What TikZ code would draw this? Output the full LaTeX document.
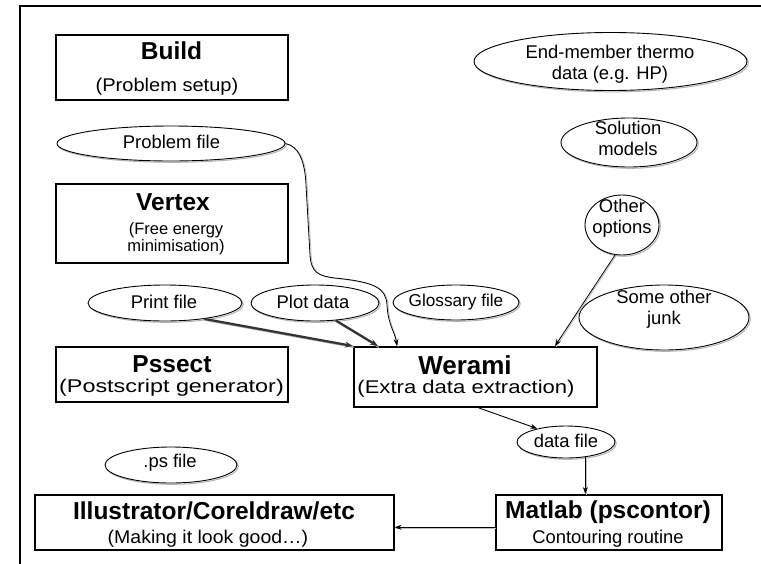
\documentclass[tikz,border=0pt]{standalone}
\usepackage{fontspec}
\setmainfont{Liberation Sans}
\usetikzlibrary{shapes.geometric,arrows.meta,calc}
\newcommand\hs[2]{\scalebox{#1}[1]{#2}}
\begin{document}
\begin{tikzpicture}[x=1pt,y=-1pt,
  box/.style={draw, line width=1.6pt, inner sep=0pt, anchor=north west},
  ell/.style={ellipse, draw, fill=white, line width=0.9pt, inner sep=0pt,
    preaction={draw=black!30, line width=1pt, transform canvas={shift={(1.3pt,-1.3pt)}}}},
  ttl/.style={inner sep=0pt, font=\fontsize{24.5}{26}\selectfont\bfseries},
  sub/.style={inner sep=0pt, font=\fontsize{18.4}{20}\selectfont},
  etx/.style={inner sep=0pt, align=center, font=\fontsize{18.4}{21}\selectfont},
  shd/.style={preaction={draw=black!25, -, line width=0.8pt, transform canvas={shift={(1.2pt,-0.6pt)}}}},
  conn/.style={-{Stealth[length=7pt,width=5pt]}, line width=0.8pt, shd},
  thk/.style={-{Stealth[length=8pt,width=6pt]}, line width=2.2pt, draw=black!80,
    preaction={draw=black!35, -, line width=1.2pt, transform canvas={shift={(0.8pt,-1.4pt)}}}}]
\useasboundingbox (0,0) rectangle (761,563);
% outer frame
\draw[line width=2.5pt] (790,6) -- (20,6) -- (20,590);
% boxes
\node[box, minimum width=232, minimum height=65] (build) at (55,34) {};
\node[ttl] at (171.5,51) {Build};
\node[sub] at (167,87) {\hs{1.09}{(Problem setup)}};
\node[box, minimum width=232, minimum height=79] (vertex) at (55,183) {};
\node[ttl] at (173,202) {Vertex};
\node[inner sep=0pt, align=center, font=\fontsize{16.5}{17}\selectfont] at (176,238.5) {(Free energy\\minimisation)};
\node[box, minimum width=232, minimum height=55] (pssect) at (55,346) {};
\node[ttl] at (172,364) {Pssect};
\node[sub] at (171.5,388) {\hs{1.27}{(Postscript generator)}};
\node[box, minimum width=243, minimum height=60] (wer) at (353,346) {};
\node[ttl, font=\fontsize{26}{28}\selectfont\bfseries] at (465,365) {Werami};
\node[sub] at (466,389) {\hs{1.2}{(Extra data extraction)}};
\node[box, minimum width=359, minimum height=55] (ill) at (34,494) {};
\node[ttl] at (214,511) {Illustrator/Coreldraw/etc};
\node[sub] at (208,539) {\hs{1.06}{(Making it look good…)}};
\node[box, minimum width=226, minimum height=55] (mat) at (495,494) {};
\node[ttl] at (608,512) {Matlab (pscontor)};
\node[sub] at (608,539) {Contouring routine};
% ellipses
\node[ell, minimum width=228, minimum height=35] (pf) at (171,143.5) {};
\node[etx] at (171.5,142) {Problem file};
\node[ell, minimum width=273, minimum height=58] (em) at (610.5,61.5) {};
\node[etx] at (610,64) {End-member thermo\\data (e.g. HP)};
\node[ell, minimum width=136, minimum height=49] (sm) at (629,142.5) {};
\node[etx] at (628,138) {Solution\\models};
\node[ell, minimum width=74, minimum height=60] (oo) at (622,225) {};
\node[etx] at (622,218) {Other\\options};
\node[ell, minimum width=154, minimum height=36] (prf) at (165,303) {};
\node[etx] at (164,302) {Print file};
\node[ell, minimum width=128, minimum height=36] (pd) at (315,303) {};
\node[etx] at (313,302) {Plot data};
\node[ell, minimum width=126, minimum height=35] (gl) at (456,302.5) {};
\node[etx, font=\fontsize{17.2}{20}\selectfont] at (456,302) {Glossary file};
\node[ell, minimum width=170, minimum height=65] (soj) at (664,317.5) {};
\node[etx] at (664,309) {Some other\\junk};
\node[ell, minimum width=132, minimum height=36] (ps) at (171,465) {};
\node[etx] at (170,463) {.ps file};
\node[ell, minimum width=98, minimum height=32] (df) at (566,442) {};
\node[etx] at (566,441) {data file};
% connectors
\coordinate (wpf) at ([xshift=44pt]wer.north west);
\draw[conn] (pf.east) .. controls (298,146) and (305,160) .. (306,185)
  -- (310,255) .. controls (311,272) and (318,276) .. (335,278)
  .. controls (375,282) and (386,288) .. (387,305)
  .. controls (388,325) and (395,332) .. (wpf);
\draw[thk] (prf.-22) -- (wer.north west);
\draw[thk] (pd.-40) -- ([xshift=25pt]wer.north west);
\draw[conn] (oo.-103) -- ([xshift=202pt]wer.north west);
\draw[conn] ([xshift=125pt]wer.south west) -- (df.155);
\draw[conn] (df.-38) -- (df.-38 |- mat.north);
\draw[conn] ([yshift=-5pt]mat.west) -- ([yshift=-5pt]mat.west -| ill.east);
\end{tikzpicture}
\end{document}
